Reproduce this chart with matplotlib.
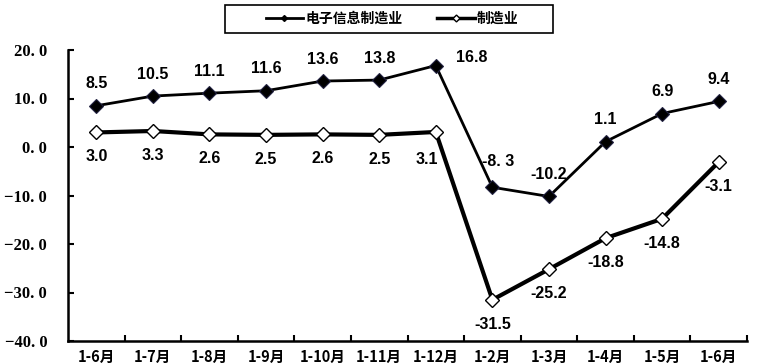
import matplotlib
matplotlib.use("Agg")
import matplotlib.pyplot as plt
from matplotlib.lines import Line2D
from matplotlib.patches import Rectangle

categories = ["1-6月", "1-7月", "1-8月", "1-9月", "1-10月", "1-11月", "1-12月",
              "1-2月", "1-3月", "1-4月", "1-5月", "1-6月"]
electronics = [8.5, 10.5, 11.1, 11.6, 13.6, 13.8, 16.8, -8.3, -10.2, 1.1, 6.9, 9.4]
manufacturing = [3.0, 3.3, 2.6, 2.5, 2.6, 2.5, 3.1, -31.5, -25.2, -18.8, -14.8, -3.1]
yticks = [-40, -30, -20, -10, 0, 10, 20]
series_names = ["电子信息制造业", "制造业"]

plt.rcParams['font.family'] = ['Noto Sans CJK SC', 'DejaVu Sans']

W, H = 758, 364
fig = plt.figure(figsize=(W / 100, H / 100), dpi=100)
ax = fig.add_axes([68 / W, 1 - 341 / H, 679 / W, 291 / H])

x = list(range(len(categories)))
ax.plot(x, manufacturing, color='black', lw=3.0, marker='D', ms=7,
        mfc='white', mec='black', mew=1.0, zorder=3)
ax.plot(x, electronics, color='black', lw=2.0, marker='D', ms=7,
        mfc='black', mec='#202040', mew=0.8, zorder=4)

ax.set_xlim(-0.5, len(categories) - 0.5)
ax.set_ylim(-40, 20)
ax.set_yticks(yticks)
ax.set_yticklabels([f"{v:.0f}. 0".replace("-", "\u2212") for v in yticks],
                   family=['Liberation Serif'], fontweight='bold', fontsize=12)
ax.set_xticks(x)
ax.set_xticklabels(categories, fontweight='bold', fontsize=10.5)
ax.set_xticks([i + 0.5 for i in x], minor=True)
ax.tick_params(axis='x', which='major', length=0, pad=6)
ax.tick_params(axis='x', which='minor', length=4, width=1.5, direction='in')
ax.tick_params(axis='y', length=4, width=1.5, direction='in', pad=15)
for s in ['top', 'right']:
    ax.spines[s].set_visible(False)
for s in ['left', 'bottom']:
    ax.spines[s].set_linewidth(1.8)

lab_kw = dict(fontweight='bold', fontsize=11.5, ha='center', va='center',
              family=['Liberation Sans'])
for i, v in enumerate(electronics):
    dx, dy = 0, 4.5
    txt = f"{v:.1f}"
    if i == 6:
        dx, dy = 0.64, 1.6
    if i == 7:
        dx, dy = 0.1, 5.4
        txt = "-8. 3"
    ax.text(i + dx, v + dy, txt, **lab_kw)
for i, v in enumerate(manufacturing):
    dx, dy = 0, -5.0
    if i == 6:
        dx, dy = -0.15, -5.7
    ax.text(i + dx, v + dy, f"{v:.1f}", **lab_kw)

# legend box
fig.patches.append(Rectangle((225 / W, 1 - 33 / H), 328 / W, 28 / H,
                             transform=fig.transFigure, facecolor='white',
                             edgecolor='black', lw=1.2))
handles = [Line2D([], [], color='black', lw=2, marker='D', ms=3, mfc='black', mec='black'),
           Line2D([], [], color='black', lw=2.5, marker='D', ms=3.5, mfc='white', mec='black')]
leg = fig.legend(handles, series_names, loc='center', ncol=2,
                 bbox_to_anchor=(392 / W, 1 - 19 / H), frameon=False,
                 handlelength=2.7, columnspacing=2.5, handletextpad=0.15,
                 prop={'weight': 'bold', 'size': 10})

fig.savefig("out.png", dpi=100)
